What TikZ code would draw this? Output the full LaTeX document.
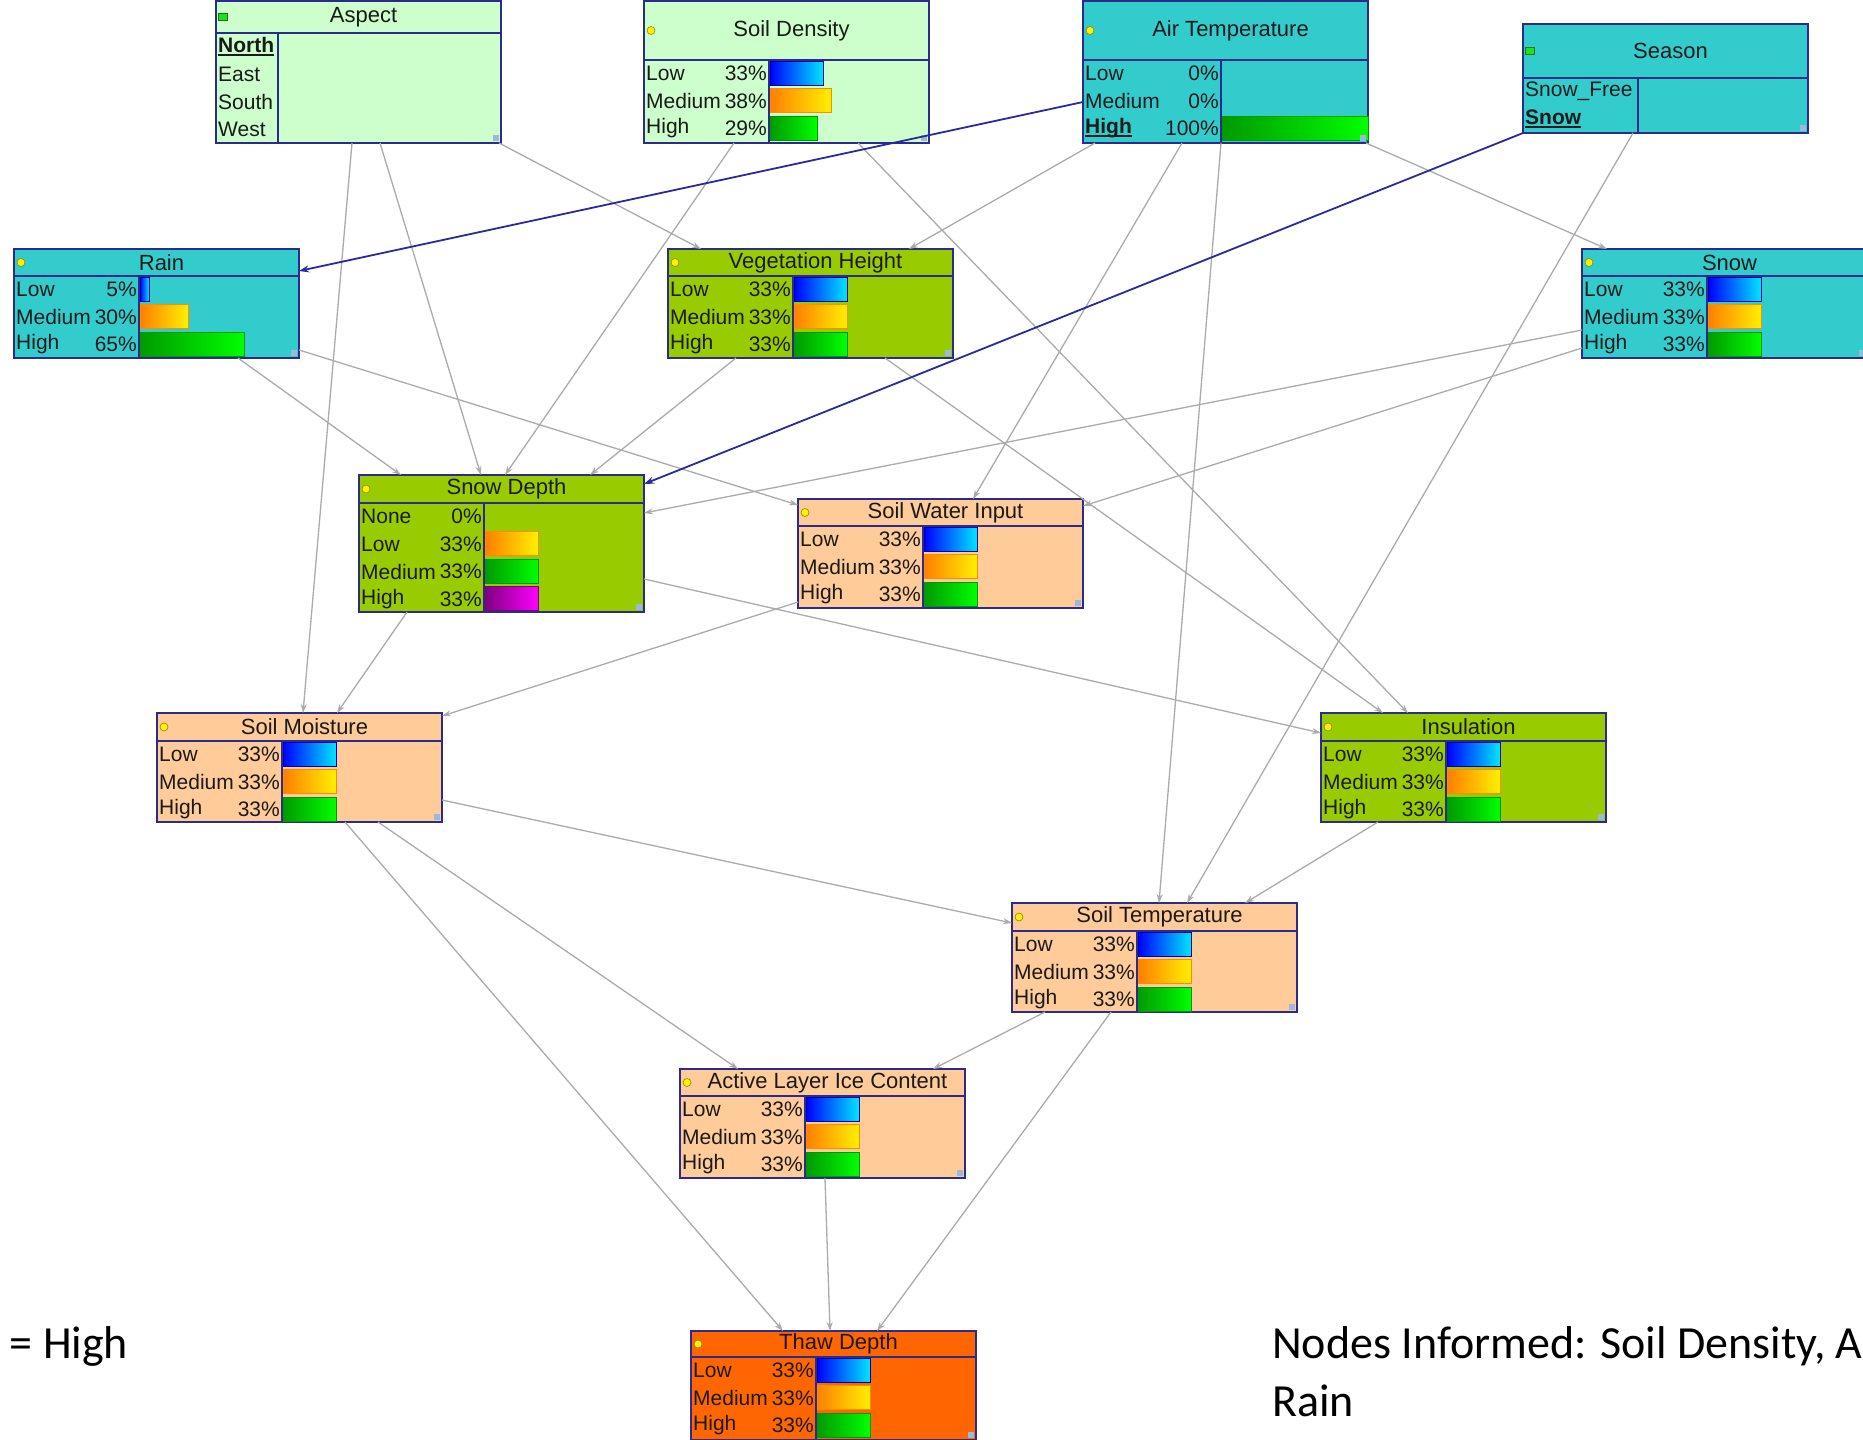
\documentclass[tikz,border=0pt]{standalone}
\usepackage{fontspec}
\setmainfont{Liberation Sans}
\newfontfamily\capfont{Carlito}
\usetikzlibrary{arrows.meta}
\definecolor{clight}{HTML}{CCFFCC}
\definecolor{cteal}{HTML}{33CCCC}
\definecolor{colive}{HTML}{99CC00}
\definecolor{cpeach}{HTML}{FFCC99}
\definecolor{cthaw}{HTML}{FF6600}
\definecolor{cnavy}{HTML}{2B2B8C}
\definecolor{ctext}{HTML}{1A1A1A}
\definecolor{cedge}{HTML}{ABABAB}
\definecolor{chilink}{HTML}{2A2AA0}
\definecolor{cdot}{HTML}{FFF200}
\definecolor{cflag}{HTML}{22DD22}
\definecolor{cicon}{HTML}{9DB8D8}
\definecolor{clowL}{HTML}{0000FF}
\definecolor{clowR}{HTML}{00E5FF}
\definecolor{cmedL}{HTML}{FF7F00}
\definecolor{cmedR}{HTML}{FFF000}
\definecolor{chiL}{HTML}{009A00}
\definecolor{chiR}{HTML}{00FF00}
\definecolor{cpurL}{HTML}{7F007F}
\definecolor{cpurR}{HTML}{FF00FF}
\tikzset{
  netbox/.style={draw=cnavy, fill=#1, line width=1.8pt, rectangle, anchor=north west, minimum width=285pt, inner sep=0pt, outer sep=0pt},
  divline/.style={draw=cnavy, line width=1.5pt},
  ttl/.style={font=\fontsize{22}{26}\selectfont, text=ctext, inner sep=0pt},
  stname/.style={font=\fontsize{21}{25}\selectfont, text=ctext, anchor=west, inner sep=0pt},
  stpct/.style={stname, anchor=east},
  indicator/.style={circle, draw=cdot!55!black, fill=cdot, line width=0.6pt, inner sep=0pt, minimum size=8pt},
  flagmark/.style={rectangle, draw=cflag!55!black, fill=cflag, line width=0.6pt, inner sep=0pt, minimum width=9pt, minimum height=7pt},
  lowbar/.style={left color=clowL, right color=clowR, draw=clowL!70!black, line width=1pt},
  medbar/.style={left color=cmedL, right color=cmedR, draw=cmedL!90!yellow, line width=1pt},
  highbar/.style={left color=chiL, right color=chiR, draw=chiL, line width=1pt},
  purbar/.style={left color=cpurL, right color=cpurR, draw=cpurL, line width=1pt},
  link/.style={draw=cedge, line width=1.3pt, -{Stealth[length=9pt, width=6pt]}},
  hilink/.style={draw=chilink, line width=1.8pt, -{Stealth[length=10pt, width=7pt]}},
  caption/.style={font=\capfont\fontsize{46}{58}\selectfont, anchor=base west, inner sep=0pt},
}
% selected state: bold with a thick underline
\newcommand{\selstate}[1]{\setbox0=\hbox{\textbf{#1}}\rlap{\rule[-3.5pt]{\wd0}{2.5pt}}\box0}
% name, left, top, height, title height, column width, fill, title, states
\newcommand{\bnnode}[9]{%
  \node[netbox=#7, minimum height=#4pt] (#1) at (#2,#3) {};
  \draw[divline] ([yshift=-#5pt]#1.north west) -- ([yshift=-#5pt]#1.north east);
  \draw[divline] ([xshift=#6pt, yshift=-#5pt]#1.north west) -- ([xshift=#6pt]#1.south west);
  \node[indicator] (#1-i) at ([xshift=7pt, yshift={-#5/2}]#1.north west) {};
  \node[ttl] (#1-t) at ([xshift=5pt, yshift={-#5/2}]#1.north) {#8};
  \foreach \s/\p/\w/\bst [count=\i] in {#9} {
    \node[stname] (#1-s\i) at ([xshift=2pt, yshift={-#5-(\i-0.5)*27.4}]#1.north west) {\s};
    \node[stpct] (#1-p\i) at ([xshift={#6-2}, yshift={-#5-(\i-0.5)*27.4}]#1.north west) {\p};
    \ifdim\w pt>0pt
      \path[\bst] ([xshift={#6+1}, yshift={-#5-(\i-1)*27.4-1.5}]#1.north west) rectangle ++(\w,24);
    \fi
  }
  \fill[cicon] ([xshift=-8pt, yshift=2pt]#1.south east) rectangle ++(6,-6);
}

\begin{document}
\begin{tikzpicture}[x=1pt, y=-1pt]
  \useasboundingbox (0,0) rectangle (1863,1440);
  \clip (0,0) rectangle (1863,1440);
  \fill[white] (0,0) rectangle (1863,1440);
  % ---------- top row
  \begin{scope}[indicator/.style={flagmark}]
    \bnnode{asp}{216}{1}{142}{32}{62}{clight}{Aspect}{{\selstate{North}}/{}/0/lowbar, East/{}/0/lowbar, South/{}/0/lowbar, West/{}/0/lowbar}
    \bnnode{seas}{1523}{24}{109}{54}{115}{cteal}{Season}{Snow\_Free/{}/0/lowbar, {\selstate{Snow}}/{}/0/lowbar}
  \end{scope}
  \bnnode{sden}{644}{1}{142}{59}{125}{clight}{Soil Density}{Low/33\%/53/lowbar, Medium/38\%/61/medbar, High/29\%/47/highbar}
  \bnnode{atmp}{1083}{1}{142}{59}{138}{cteal}{Air Temperature}{Low/0\%/0/lowbar, Medium/0\%/0/medbar, {\selstate{High}}/100\%/146/highbar}
  % ---------- second row
  \bnnode{rain}{14}{249}{109}{27}{125}{cteal}{Rain}{Low/5\%/9/lowbar, Medium/30\%/48/medbar, High/65\%/104/highbar}
  \bnnode{vegh}{668}{249}{109}{27}{125}{colive}{Vegetation Height}{Low/33\%/53/lowbar, Medium/33\%/53/medbar, High/33\%/53/highbar}
  \bnnode{snow}{1582}{249}{109}{27}{125}{cteal}{Snow}{Low/33\%/53/lowbar, Medium/33\%/53/medbar, High/33\%/53/highbar}
  % ---------- middle
  \bnnode{sdep}{359}{475}{137}{28}{125}{colive}{Snow Depth}{None/0\%/0/lowbar, Low/33\%/53/medbar, Medium/33\%/53/highbar, High/33\%/53/purbar}
  \bnnode{swi}{798}{499}{109}{27}{125}{cpeach}{Soil Water Input}{Low/33\%/53/lowbar, Medium/33\%/53/medbar, High/33\%/53/highbar}
  \bnnode{smoi}{157}{713}{109}{28}{125}{cpeach}{Soil Moisture}{Low/33\%/53/lowbar, Medium/33\%/53/medbar, High/33\%/53/highbar}
  \bnnode{insu}{1321}{713}{109}{28}{125}{colive}{Insulation}{Low/33\%/53/lowbar, Medium/33\%/53/medbar, High/33\%/53/highbar}
  \bnnode{stmp}{1012}{903}{109}{28}{125}{cpeach}{Soil Temperature}{Low/33\%/53/lowbar, Medium/33\%/53/medbar, High/33\%/53/highbar}
  % ---------- bottom
  \bnnode{alic}{680}{1069}{109}{27}{125}{cpeach}{Active Layer Ice Content}{Low/33\%/53/lowbar, Medium/33\%/53/medbar, High/33\%/53/highbar}
  \bnnode{thaw}{691}{1331}{109}{26}{125}{cthaw}{Thaw Depth}{Low/33\%/53/lowbar, Medium/33\%/53/medbar, High/33\%/53/highbar}
  % ---------- links
  \draw[link] ([xshift=224]rain.south west) -- ([xshift=42]sdep.north west);
  \draw[link] ([xshift=164]asp.south west) -- ([xshift=122]sdep.north west);
  \draw[link] ([xshift=90]sden.south west) -- ([xshift=146]sdep.north west);
  \draw[link] ([xshift=68]vegh.south west) -- ([xshift=231]sdep.north west);
  \draw[link] ([yshift=-81]snow.north west) -- ([yshift=-38]sdep.north east);
  \draw[link] ([yshift=-99]snow.north west) -- ([yshift=-7]swi.north east);
  \draw[link] ([yshift=-101]rain.north east) -- ([yshift=-6]swi.north west);
  \draw[link] ([xshift=99]atmp.south west) -- ([xshift=175]swi.north west);
  \draw[link] ([xshift=12]atmp.south west) -- ([xshift=241]vegh.north west);
  \draw[link] ([xshift=-2]asp.south east) -- ([xshift=33]vegh.north west);
  \draw[link] ([xshift=-2]atmp.south east) -- ([xshift=25]snow.north west);
  \draw[link] ([xshift=138]atmp.south west) -- ([xshift=147]stmp.north west);
  \draw[link] ([xshift=110]seas.south west) -- ([xshift=175]stmp.north west);
  \draw[link] ([xshift=57]insu.south west) -- ([xshift=233]stmp.north west);
  \draw[link] ([yshift=-87]smoi.north east) -- ([yshift=-20]stmp.north west);
  \draw[link] ([yshift=-104]sdep.north east) -- ([yshift=-20]insu.north west);
  \draw[link] ([xshift=217]vegh.south west) -- ([xshift=62]insu.north west);
  \draw[link] ([xshift=214]sden.south west) -- ([xshift=87]insu.north west);
  \draw[link] ([yshift=6]swi.south west) -- ([yshift=-3]smoi.north east);
  \draw[link] ([xshift=48]sdep.south west) -- ([xshift=180]smoi.north west);
  \draw[link] ([xshift=136]asp.south west) -- ([xshift=146]smoi.north west);
  \draw[link] ([xshift=221]smoi.south west) -- ([xshift=58]alic.north west);
  \draw[link] ([xshift=33]stmp.south west) -- ([xshift=253]alic.north west);
  \draw[link] ([xshift=188]smoi.south west) -- ([xshift=92]thaw.north west);
  \draw[link] ([xshift=145]alic.south west) -- ([xshift=139]thaw.north west);
  \draw[link] ([xshift=99]stmp.south west) -- ([xshift=186]thaw.north west);
  % ---------- informed links
  \draw[hilink] ([yshift=-101]atmp.north west) -- ([yshift=-22]rain.north east);
  \draw[hilink] (seas.south west) -- ([yshift=-9]sdep.north east);
  % ---------- captions
  \node[caption] (cap1) at (9.5,1358) {= High};
  \node[caption] (cap2) at (1272,1358) {Nodes Informed: Soil Density, Air Temperature,};
  \node[caption] (cap3) at (1272,1416) {Rain};
\end{tikzpicture}
\end{document}
